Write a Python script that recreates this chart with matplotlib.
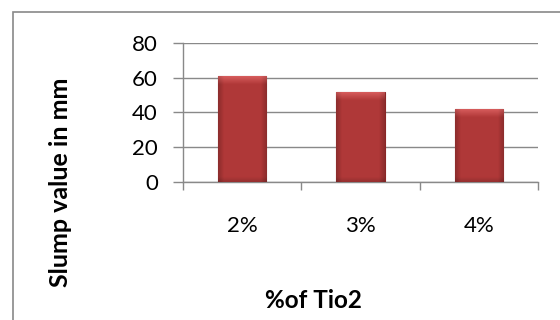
import matplotlib
matplotlib.use("Agg")
import matplotlib.pyplot as plt
from matplotlib.patches import Rectangle
import numpy as np

categories = ["2%", "3%", "4%"]
values = [61, 52, 42]
y_ticks = [0, 20, 40, 60, 80]

plt.rcParams['font.family'] = ['Lato', 'DejaVu Sans']

W, H = 560, 320
fig = plt.figure(figsize=(5.6, 3.2), dpi=100)
ax = fig.add_axes([183/W, 1-182.3/H, (538-183)/W, (182.3-42.7)/H])

x = list(range(len(categories)))
bars = ax.bar(x, values, width=0.41, color='#AC3535', edgecolor='#8A2626', linewidth=0.8, zorder=3)

# shading for bevel look
base = np.array([0.69, 0.22, 0.22])
px_per_unit = (182.3 - 42.7) / 80
for b in bars:
    bx, by = b.get_x(), b.get_y()
    bw, bh = b.get_width(), b.get_height()
    nx, ny = 60, 200
    u = np.linspace(0, 1, nx)
    v = np.linspace(0, 1, ny)  # 0 bottom, 1 top
    edge = np.clip(np.minimum(u, 1 - u) / 0.12, 0, 1)
    hfac = 0.80 + 0.20 * edge
    img = np.ones((ny, nx, 3)) * base
    img = img * hfac[None, :, None]
    hpx = bh * px_per_unit
    dtop = (1 - v) * hpx
    t = np.clip(1 - dtop / 9.0, 0, 1)[:, None, None]
    hl = np.array([0.86, 0.38, 0.38]) * (0.88 + 0.12 * edge)[None, :, None]
    img = img * (1 - t) + hl * t
    dbot = v * hpx
    tb = np.clip(1 - dbot / 5.0, 0, 1)[:, None, None]
    img = img * (1 - 0.15 * tb)
    im = ax.imshow(img[::-1], extent=(bx, bx + bw, by, by + bh), aspect='auto', zorder=3.5,
                   interpolation='bilinear')
    im.set_clip_path(b)

ax.set_xlim(-0.5, len(categories)-0.5)
ax.set_ylim(0, 80)
ax.set_yticks(y_ticks)
ax.set_yticklabels([str(v) for v in y_ticks], fontsize=16)
ax.set_xticks([i + 0.5 for i in range(-1, len(categories))])
ax.set_xticklabels([])
ax.set_xticks(x, minor=True)
ax.set_xticklabels(categories, minor=True, fontsize=16)
ax.tick_params(axis='x', which='minor', length=0, pad=24)
ax.tick_params(axis='x', which='major', direction='out', length=6, color='#898989', width=1)
ax.tick_params(axis='y', direction='out', length=7, color='#898989', width=1, pad=11)

ax.grid(axis='y', color='#898989', linewidth=1, zorder=0)
for s in ['top', 'right']:
    ax.spines[s].set_visible(False)
for s in ['left', 'bottom']:
    ax.spines[s].set_color('#898989')
    ax.spines[s].set_linewidth(1)

fig.text(313/W, 1-301/H, '%of Tio2', ha='center', va='center', fontsize=17.5, fontweight='bold')
fig.text(60/W, 1-182/H, 'Slump value in mm', ha='center', va='center', rotation=90, fontsize=18, fontweight='bold')

fig.patches.append(Rectangle((13/W, -0.1), 1.2, 1-12/H+0.1, transform=fig.transFigure,
                             fill=False, edgecolor='#898989', linewidth=1.2))

fig.savefig('out.png', dpi=100)
